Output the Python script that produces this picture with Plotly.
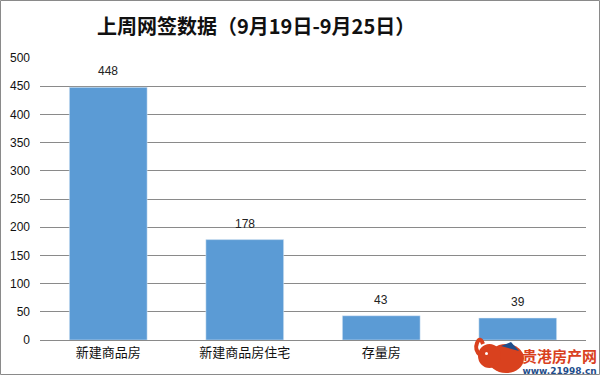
import plotly.graph_objects as go

categories = ["新建商品房", "新建商品房住宅", "存量房", "存量房住宅"]
values = [448, 178, 43, 39]
# the fourth category label is hidden under the watermark in the reference
tick_labels = ["新建商品房", "新建商品房住宅", "存量房", ""]
y_ticks = [0, 50, 100, 150, 200, 250, 300, 350, 400, 450, 500]
title_text = "上周网签数据（9月19日-9月25日）"

W, H = 600, 375
ml, mr, mt, mb = 40, 14, 58, 35
pw, ph = W - ml - mr, H - mt - mb


def px(x, y):
    return (x - ml) / pw, (H - mb - y) / ph


fig = go.Figure()
fig.add_trace(go.Bar(x=categories, y=values, marker_color="#5B9BD5", width=0.57, hoverinfo="skip"))

for c, v in zip(categories, values):
    fig.add_annotation(x=c, y=v, text=str(v), showarrow=False, yanchor="bottom", yshift=7,
                       font=dict(size=12, color="#222", family="Liberation Sans, Arial"))

tx, ty = px(256, 25)
fig.add_annotation(xref="paper", yref="paper", x=tx, y=ty,
                   text="<b>" + title_text + "</b>", showarrow=False, xanchor="center", yanchor="middle",
                   font=dict(size=20, color="#111", family="Noto Sans CJK SC"))

# watermark text (one annotation, two lines)
wx, wy = px(598, 360)
fig.add_annotation(xref="paper", yref="paper", x=wx, y=wy,
                   text=("<b><span style='font-size:15px;color:#d9411e;font-family:Noto Sans CJK SC'>贵港房产网</span></b><br>"
                         "<b><span style='font-size:9px;color:#1f4e8c;font-family:DejaVu Sans'>www.21998.cn</span></b>"),
                   showarrow=False, xanchor="right", yanchor="middle", align="center",
                   borderpad=0, font=dict(size=9, family="Noto Sans CJK SC"))

# watermark elephant (decoration)
red = "#d9411e"
x0, y0 = px(488, 373); x1, y1 = px(524, 344)
fig.add_shape(type="circle", xref="paper", yref="paper", x0=x0, y0=y0, x1=x1, y1=y1,
              fillcolor=red, line=dict(width=0))
x0, y0 = px(478, 368); x1, y1 = px(501, 344)
fig.add_shape(type="circle", xref="paper", yref="paper", x0=x0, y0=y0, x1=x1, y1=y1,
              fillcolor=red, line=dict(width=0))
pts = [px(481, 356), px(474, 350), px(477, 343), px(483, 344)]
path = "M {:.4f} {:.4f} Q {:.4f} {:.4f} {:.4f} {:.4f} T {:.4f} {:.4f}".format(
    pts[0][0], pts[0][1], pts[1][0], pts[1][1], pts[2][0], pts[2][1], pts[3][0], pts[3][1])
fig.add_shape(type="path", xref="paper", yref="paper", path=path,
              line=dict(color=red, width=4))
s = [px(501, 346), px(511, 342), px(519, 351)]
fig.add_shape(type="path", xref="paper", yref="paper",
              path="M {:.4f} {:.4f} L {:.4f} {:.4f} L {:.4f} {:.4f} Z".format(s[0][0], s[0][1], s[1][0], s[1][1], s[2][0], s[2][1]),
              fillcolor="#1f4e8c", line=dict(width=0))
e = [px(485, 352), px(488, 355)]
fig.add_shape(type="circle", xref="paper", yref="paper", x0=e[0][0], y0=e[1][1], x1=e[1][0], y1=e[0][1],
              fillcolor="white", line=dict(width=0))

# outer border
bx0, by0 = px(0.5, H - 0.5); bx1, by1 = px(W - 0.5, 0.5)
fig.add_shape(type="rect", xref="paper", yref="paper", x0=bx0, x1=bx1, y0=by0, y1=by1,
              line=dict(color="#8a8a8a", width=1))

fig.update_layout(
    width=W, height=H, margin=dict(l=ml, r=mr, t=mt, b=mb, autoexpand=False),
    paper_bgcolor="white", plot_bgcolor="white", showlegend=False,
    bargap=0.43,
    xaxis=dict(showgrid=False, showline=True, linecolor="#8a8a8a", linewidth=1, ticks="",
               automargin=False, tickvals=categories, ticktext=tick_labels,
               tickfont=dict(size=13, color="#111", family="Noto Sans CJK SC")),
    yaxis=dict(range=[0, 500], tickvals=y_ticks, showgrid=True, gridcolor="#8a8a8a", gridwidth=1,
               zeroline=False, showline=False, ticks="", ticklabelstandoff=9, automargin=False,
               tickfont=dict(size=12, color="#111", family="Liberation Sans, Arial")),
    font=dict(family="Noto Sans CJK SC"),
)

fig.write_html("out.html")
